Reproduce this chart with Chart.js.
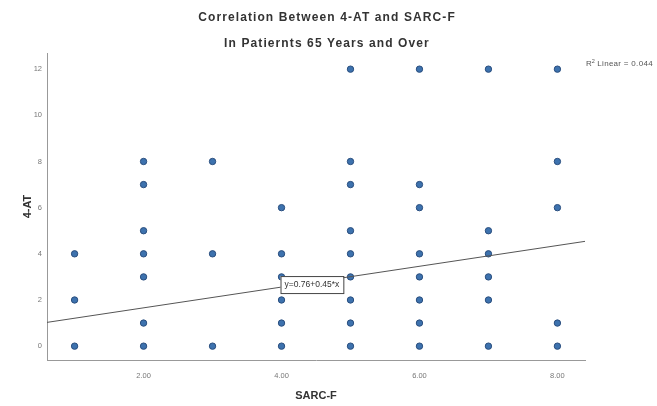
<!DOCTYPE html>
<html>
<head>
<meta charset="utf-8">
<script src="https://cdn.jsdelivr.net/npm/chart.js@4.4.1/dist/chart.umd.min.js"></script>
<style>
  html, body { margin: 0; padding: 0; background: #fff; }
  canvas { display: block; }
</style>
</head>
<body>
<canvas id="scatterChart" width="657" height="406"></canvas>
<script>
// SARC-F score (x) paired with 4-AT score (y), one entry per point
var sarcF = [1, 1, 1,
    2, 2, 2, 2, 2, 2, 2,
    3, 3, 3,
    4, 4, 4, 4, 4, 4,
    5, 5, 5, 5, 5, 5, 5, 5, 5,
    6, 6, 6, 6, 6, 6, 6, 6,
    7, 7, 7, 7, 7, 7,
    8, 8, 8, 8, 8];
var at4 = [0, 2, 4,
    0, 1, 3, 4, 5, 7, 8,
    0, 4, 8,
    0, 1, 2, 3, 4, 6,
    0, 1, 2, 3, 4, 5, 7, 8, 12,
    0, 1, 2, 3, 4, 6, 7, 12,
    0, 2, 3, 4, 5, 12,
    0, 1, 6, 8, 12];

var xTicks = [2, 4, 6, 8];
var yTicks = [0, 2, 4, 6, 8, 10, 12];
var xRange = [0.6, 8.4];
var yRange = [-0.6, 12.7];

// reported linear fit
var fitIntercept = 0.76;
var fitSlope = 0.45;
var fitLabel = 'y=0.76+0.45*x';
var r2Label = 'Linear = 0.044';
var titleLines = ['Correlation Between 4-AT and SARC-F', 'In Patiernts 65 Years and Over'];

var points = sarcF.map(function(x, i) { return { x: x, y: at4[i] }; });
var fitPoints = xRange.map(function(x) { return { x: x, y: fitIntercept + fitSlope * x }; });

var FONT = '"Liberation Sans", Arial, sans-serif';

var annotations = {
    id: 'annotations',
    afterDraw: function(chart) {
        var ctx = chart.ctx;
        var xs = chart.scales.x, ys = chart.scales.y;
        ctx.save();
        // title
        ctx.fillStyle = '#333';
        ctx.font = 'bold 12px ' + FONT;
        ctx.letterSpacing = '1.1px';
        ctx.textAlign = 'center';
        ctx.textBaseline = 'middle';
        ctx.fillText(titleLines[0], 327, 18);
        ctx.fillText(titleLines[1], 327, 44);
        ctx.letterSpacing = '0px';

        // R² label, outside the plot on the right
        var rx = chart.chartArea.right + 1;
        var ry = ys.getPixelForValue(12) - 5;
        ctx.fillStyle = '#555';
        ctx.textAlign = 'left';
        ctx.font = '8px ' + FONT;
        ctx.fillText('R', rx, ry);
        var rw = ctx.measureText('R').width;
        ctx.font = '5.5px ' + FONT;
        ctx.fillText('2', rx + rw, ry - 3);
        ctx.font = '8px ' + FONT;
        ctx.letterSpacing = '0.3px';
        ctx.fillText(' ' + r2Label, rx + rw + 3, ry);
        ctx.letterSpacing = '0px';

        // equation box on the fit line
        var bx = xs.getPixelForValue(4) - 1;
        var by = ys.getPixelForValue(fitIntercept + fitSlope * 4);
        ctx.font = '8.5px ' + FONT;
        var w = ctx.measureText(fitLabel).width + 8;
        ctx.fillStyle = '#fff';
        ctx.fillRect(bx, by - 11, w, 17);
        ctx.strokeStyle = '#444';
        ctx.lineWidth = 1;
        ctx.strokeRect(bx + 0.5, by - 10.5, w, 17);
        ctx.fillStyle = '#333';
        ctx.fillText(fitLabel, bx + 4, by - 2);
        ctx.restore();
    }
};

new Chart(document.getElementById('scatterChart').getContext('2d'), {
    type: 'scatter',
    data: {
        datasets: [
            {
                label: 'Fit',
                data: fitPoints,
                showLine: true,
                borderColor: '#555',
                borderWidth: 1,
                pointRadius: 0,
                fill: false
            },
            {
                label: '4-AT',
                data: points,
                pointRadius: 3.2,
                pointBorderWidth: 1,
                pointBackgroundColor: '#3d72ae',
                pointBorderColor: '#2a4e7e'
            }
        ]
    },
    options: {
        responsive: false,
        animation: false,
        layout: { padding: { top: 53, right: 72, left: 0, bottom: 0 } },
        plugins: {
            legend: { display: false },
            tooltip: { enabled: false },
            title: { display: false }
        },
        scales: {
            x: {
                type: 'linear',
                min: xRange[0],
                max: xRange[1],
                grid: { display: false, drawTicks: false },
                border: { display: true, color: '#999', width: 1 },
                afterBuildTicks: function(scale) {
                    scale.ticks = xTicks.map(function(v) { return { value: v }; });
                },
                afterFit: function(scale) { scale.height = 46; },
                ticks: {
                    padding: 11,
                    color: '#777',
                    font: { size: 7.5, family: FONT },
                    callback: function(v) { return Number(v).toFixed(2); }
                },
                title: {
                    display: true,
                    text: 'SARC-F',
                    color: '#333',
                    font: { size: 11, weight: 'bold', family: FONT },
                    padding: { top: 0, bottom: 3 }
                }
            },
            y: {
                type: 'linear',
                min: yRange[0],
                max: yRange[1],
                grid: { display: false, drawTicks: false },
                border: { display: true, color: '#999', width: 1 },
                afterBuildTicks: function(scale) {
                    scale.ticks = yTicks.map(function(v) { return { value: v }; });
                },
                afterFit: function(scale) { scale.width = 47; },
                ticks: {
                    padding: 5,
                    color: '#777',
                    font: { size: 7.5, family: FONT }
                },
                title: {
                    display: true,
                    text: '4-AT',
                    color: '#333',
                    font: { size: 11, weight: 'bold', family: FONT },
                    padding: { top: 21, bottom: 0 }
                }
            }
        }
    },
    plugins: [annotations]
});
</script>
</body>
</html>
